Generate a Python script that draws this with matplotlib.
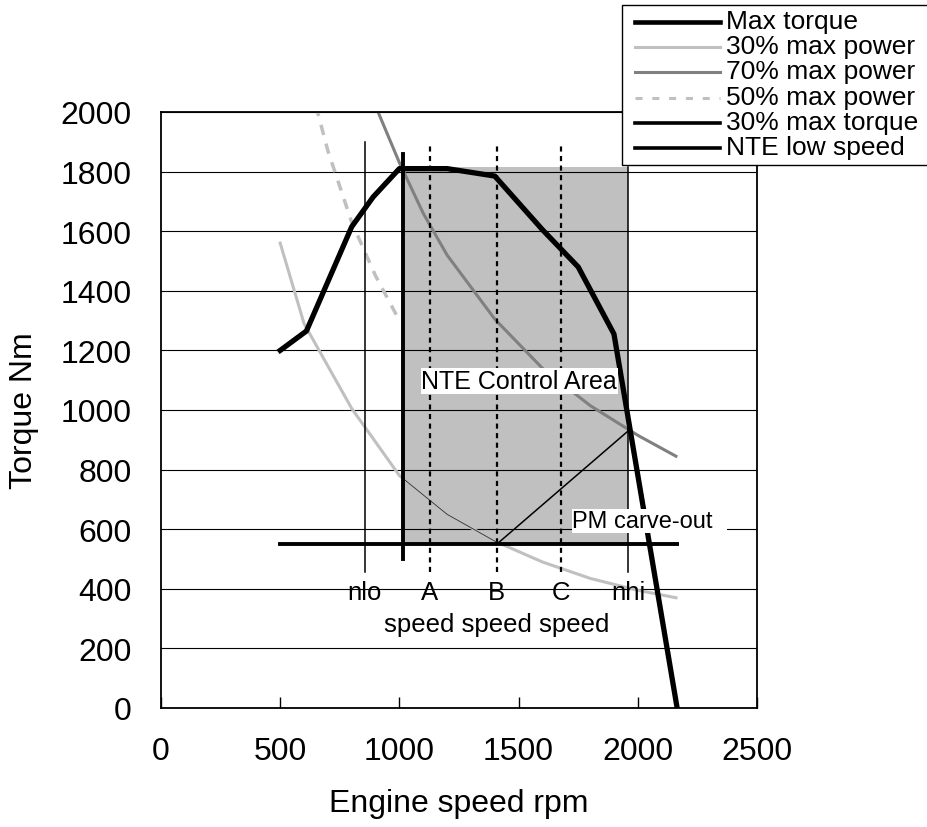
import matplotlib
matplotlib.use('Agg')
import matplotlib.pyplot as plt
from matplotlib.patches import Rectangle
from matplotlib.lines import Line2D

plt.rcParams['font.family'] = ['Liberation Sans', 'DejaVu Sans']

# ---- data ----
torque_rpm = [500, 610, 800, 890, 1000, 1200, 1400, 1600, 1750, 1900, 2165]
max_torque = [1200, 1265, 1615, 1715, 1810, 1810, 1785, 1605, 1480, 1255, 0]

p30_rpm = [500, 600, 800, 1000, 1200, 1400, 1600, 1800, 2000, 2160]
p30_torque = [1560, 1290, 1005, 780, 650, 560, 490, 435, 395, 370]

p70_rpm = [900, 1000, 1100, 1200, 1400, 1600, 1800, 2000, 2160]
p70_torque = [2020, 1830, 1660, 1520, 1305, 1140, 1015, 915, 845]

p50_rpm = [650, 700, 800, 900, 1000]
p50_torque = [2020, 1870, 1630, 1450, 1300]

t30_rpm = [500, 2165]
t30_torque = [550, 550]

nte_low_rpm = 1015
nte_low_range = [500, 1860]

nlo_rpm = 855
abc_rpm = [1128, 1409, 1677]
nhi_rpm = 1960
marker_bottom = 455
nlo_top = 1900
abc_top = 1885

area_rpm = [1015, 1960]
area_torque = [550, 1815]

carve_rpm = [1409, 1960]
carve_torque = [550, 930]

speed_labels = ['nlo', 'A', 'B', 'C', 'nhi']
speed_label_rpm = [nlo_rpm] + abc_rpm + [nhi_rpm]

legend_labels = ['Max torque', '30% max power', '70% max power',
                 '50% max power', '30% max torque', 'NTE low speed']

# ---- figure ----
W, H = 928, 828
fig = plt.figure(figsize=(W / 100, H / 100), dpi=100)
ax = fig.add_axes([161 / W, 1 - 709 / H, 596 / W, 596 / H])

# NTE control area (shaded)
area = Rectangle((area_rpm[0], area_torque[0]), area_rpm[1] - area_rpm[0],
                 area_torque[1] - area_torque[0], facecolor='#c0c0c0',
                 edgecolor='none', zorder=0.2)
ax.add_patch(area)

ax.set_axisbelow(True)
ax.yaxis.grid(True, color='black', lw=0.8)

# curves
ax.plot(p30_rpm, p30_torque, color='#c0c0c0', lw=2.2, zorder=2)
thin, = ax.plot(p30_rpm, p30_torque, color='#303030', lw=0.6, zorder=2.1)
thin.set_clip_path(area)
ax.plot(p70_rpm, p70_torque, color='#808080', lw=2.2, zorder=2)
ax.plot(p50_rpm, p50_torque, color='#c0c0c0', lw=2.5, ls=(0, (3, 2.6)), zorder=2)

# speed markers
ax.plot([nlo_rpm, nlo_rpm], [marker_bottom, nlo_top], color='black', lw=1.1)
for r in abc_rpm:
    ax.plot([r, r], [marker_bottom, abc_top], color='black', lw=1.6,
            ls=(0, (2.3, 2.0)))
ax.plot([nhi_rpm, nhi_rpm], [marker_bottom, area_torque[1]], color='black', lw=1.1)

# PM carve-out diagonal
ax.plot(carve_rpm, carve_torque, color='black', lw=1.1)

ax.plot(t30_rpm, t30_torque, color='black', lw=2.8, zorder=3)
ax.plot([nte_low_rpm, nte_low_rpm], nte_low_range, color='black', lw=2.8, zorder=3)
ax.plot(torque_rpm, max_torque, color='black', lw=3.8, zorder=4)

# text labels
for lab, r in zip(speed_labels, speed_label_rpm):
    ax.text(r, 389, lab, ha='center', va='center', fontsize=18.5)
ax.text(abc_rpm[1], 282, 'speed speed speed', ha='center', va='center', fontsize=18.5)

ax.text(1092, 1097, 'NTE Control Area', ha='left', va='center', fontsize=18,
        zorder=5, bbox=dict(facecolor='white', edgecolor='none', pad=0.5))
ax.text(1725, 627, 'PM carve-out  ', ha='left', va='center', fontsize=17,
        zorder=5, bbox=dict(facecolor='white', edgecolor='none', pad=0.5))

# axes
ax.set_xlim(0, 2500)
ax.set_ylim(0, 2000)
ax.set_xticks(range(0, 2501, 500))
ax.set_yticks(range(0, 2001, 200))
ax.tick_params(axis='x', direction='in', length=8, width=1, pad=20, labelsize=23)
ax.tick_params(axis='y', direction='in', length=0, pad=21, labelsize=23)
for s in ax.spines.values():
    s.set_linewidth(1.3)

ax.set_xlabel('Engine speed rpm', fontsize=23)
ax.set_ylabel('Torque Nm', fontsize=23)
ax.xaxis.set_label_coords(0.5, -0.134)
ax.yaxis.set_label_coords(-0.205, 0.5)

# legend drawn as a box in the top right corner (extends past the edge)
fx = lambda px: px / W
fy = lambda py: 1 - py / H
fig.add_artist(Rectangle((fx(622), fy(166)), fx(340) , 160 / H, transform=fig.transFigure,
                         facecolor='white', edgecolor='black', lw=1.0))
styles = [dict(color='black', lw=3.3),
          dict(color='#c0c0c0', lw=2.2),
          dict(color='#808080', lw=2.2),
          dict(color='#c0c0c0', lw=2.2, ls=(0, (2.3, 3.2))),
          dict(color='black', lw=2.6),
          dict(color='black', lw=2.6)]
for i, (lab, st) in enumerate(zip(legend_labels, styles)):
    yc = 23 + i * 25.2
    fig.add_artist(Line2D([fx(635), fx(720)], [fy(yc), fy(yc)],
                          transform=fig.transFigure, **st))
    fig.text(fx(726), fy(yc - 1), lab, ha='left', va='center', fontsize=19)

fig.savefig('out.png', dpi=100)
